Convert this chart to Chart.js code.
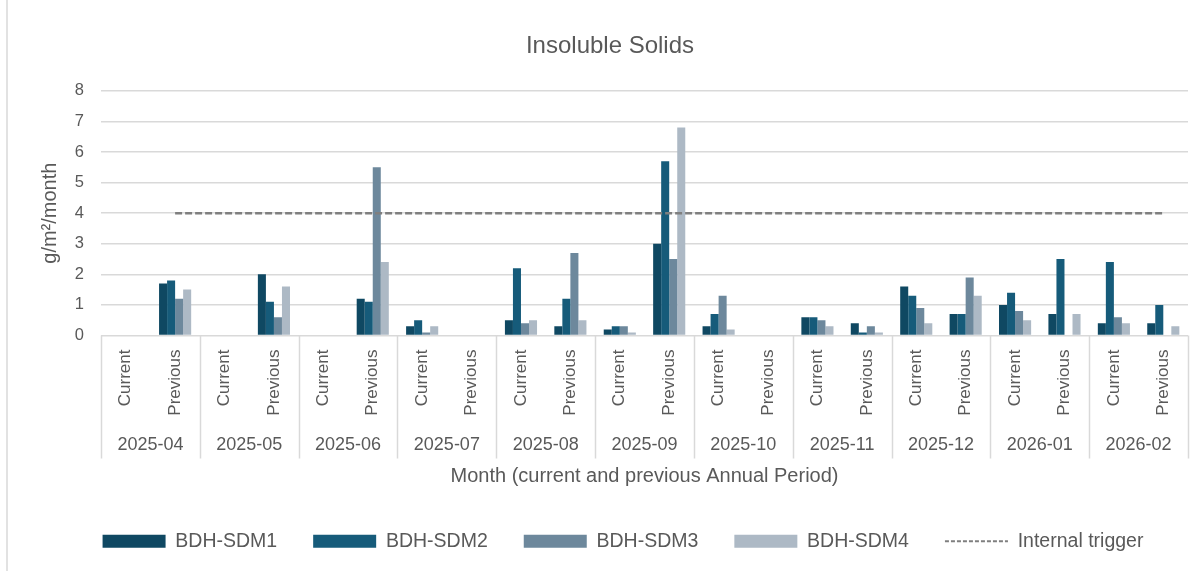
<!DOCTYPE html>
<html>
<head>
<meta charset="utf-8">
<script src="https://cdn.jsdelivr.net/npm/chart.js@4.4.1/dist/chart.umd.min.js"></script>
<style>
  html, body { margin: 0; padding: 0; background: #fff; }
  #wrap { width: 1204px; height: 571px; position: relative; }
</style>
</head>
<body>
<div id="wrap"><canvas id="chart" width="1204" height="571"></canvas></div>
<script>
// values
const months = ['2025-04', '2025-05', '2025-06', '2025-07', '2025-08', '2025-09',
    '2025-10', '2025-11', '2025-12', '2026-01', '2026-02'];
const periods = ['Current', 'Previous'];
const labels = months.flatMap(() => periods);

const sdm1 = [null, 1.7, null, 2.0, null, 1.2, 0.3, null, 0.5, 0.3, 0.2, 3.0,
    0.3, null, 0.6, 0.4, 1.6, 0.7, 1.0, 0.7, 0.4, 0.4];
const sdm2 = [null, 1.8, null, 1.1, null, 1.1, 0.5, null, 2.2, 1.2, 0.3, 5.7,
    0.7, null, 0.6, 0.1, 1.3, 0.7, 1.4, 2.5, 2.4, 1.0];
const sdm3 = [null, 1.2, null, 0.6, null, 5.5, 0.1, null, 0.4, 2.7, 0.3, 2.5,
    1.3, null, 0.5, 0.3, 0.9, 1.9, 0.8, null, 0.6, null];
const sdm4 = [null, 1.5, null, 1.6, null, 2.4, 0.3, null, 0.5, 0.5, 0.1, 6.8,
    0.2, null, 0.3, 0.1, 0.4, 1.3, 0.5, 0.7, 0.4, 0.3];
const trigger = [null, 4, 4, 4, 4, 4, 4, 4, 4, 4, 4, 4,
    4, 4, 4, 4, 4, 4, 4, 4, 4, 4];

const yTicks = [0, 1, 2, 3, 4, 5, 6, 7, 8];

const colors = {
    sdm1: '#0f4862',
    sdm2: '#165b7a',
    sdm3: '#6d889c',
    sdm4: '#adb9c5',
    trigger: '#7f7f7f',
    text: '#595959',
    grid: '#d9d9d9'
};
const FONT = "'Liberation Sans', Arial, sans-serif";

function barSet(label, data, color) {
    return {
        type: 'bar',
        label: label,
        data: data,
        backgroundColor: color,
        borderWidth: 0,
        categoryPercentage: 0.65,
        barPercentage: 1.0,
        order: 1
    };
}

// frame line on the left, group separators below the axis, title/legend nudge
const decorations = {
    id: 'decorations',
    afterLayout(chart) {
        chart.legend.left += 25;
        chart.legend.right += 25;
        chart.titleBlock.left += 12;
        chart.titleBlock.right += 12;
    },
    afterDraw(chart) {
        const ctx = chart.ctx;
        const xs = chart.scales.x;
        const x2 = chart.scales.x2;
        ctx.save();
        ctx.strokeStyle = colors.grid;
        ctx.lineWidth = 1.5;
        ctx.beginPath();
        ctx.moveTo(7, 0);
        ctx.lineTo(7, chart.height);
        const step = xs.width / months.length;
        for (let k = 0; k <= months.length; k++) {
            const x = Math.round(xs.left + k * step) + 0.5;
            ctx.moveTo(x, xs.top);
            ctx.lineTo(x, x2.top + 38);
        }
        ctx.stroke();
        ctx.restore();
    }
};

const config = {
    data: {
        labels: labels,
        datasets: [
            barSet('BDH-SDM1', sdm1, colors.sdm1),
            barSet('BDH-SDM2', sdm2, colors.sdm2),
            barSet('BDH-SDM3', sdm3, colors.sdm3),
            barSet('BDH-SDM4', sdm4, colors.sdm4),
            {
                type: 'line',
                label: 'Internal trigger',
                data: trigger,
                borderColor: colors.trigger,
                backgroundColor: colors.trigger,
                borderWidth: 2.5,
                borderDash: [7, 3],
                pointRadius: 0,
                spanGaps: false,
                order: 0
            }
        ]
    },
    options: {
        responsive: false,
        animation: false,
        layout: { padding: { left: 8, right: 16, top: 4, bottom: 10 } },
        plugins: {
            title: {
                display: true,
                text: 'Insoluble Solids',
                color: colors.text,
                font: { family: FONT, size: 24, weight: 'normal' },
                padding: { top: 28, bottom: 30 }
            },
            legend: {
                position: 'bottom',
                labels: {
                    color: colors.text,
                    font: { family: FONT, size: 19.5 },
                    usePointStyle: true,
                    pointStyleWidth: 63,
                    boxHeight: 13,
                    padding: 36,
                    sort: (a, b) => a.datasetIndex - b.datasetIndex,
                    generateLabels(chart) {
                        const items = Chart.defaults.plugins.legend.labels.generateLabels(chart);
                        items.forEach(item => {
                            if (item.datasetIndex === 4) {
                                item.pointStyle = 'line';
                                item.lineDash = [4, 2];
                                item.lineWidth = 2;
                                item.strokeStyle = colors.trigger;
                            } else {
                                item.pointStyle = 'rect';
                                item.lineWidth = 0;
                            }
                        });
                        return items;
                    }
                }
            },
            tooltip: { enabled: false }
        },
        scales: {
            x: {
                type: 'category',
                position: 'bottom',
                weight: 0,
                offset: true,
                grid: { display: false, drawTicks: false },
                border: { display: false },
                ticks: {
                    color: colors.text,
                    font: { family: FONT, size: 17 },
                    autoSkip: false,
                    minRotation: 90,
                    maxRotation: 90,
                    padding: 14
                },
                afterFit(scale) { scale.height = 85; }
            },
            x2: {
                type: 'category',
                position: 'bottom',
                weight: 1,
                labels: months,
                offset: true,
                grid: { display: false, drawTicks: false },
                border: { display: false },
                ticks: {
                    color: colors.text,
                    font: { family: FONT, size: 18 },
                    autoSkip: false,
                    maxRotation: 0,
                    padding: 14
                },
                title: {
                    display: true,
                    text: 'Month (current and previous Annual Period)',
                    color: colors.text,
                    font: { family: FONT, size: 20 },
                    padding: { top: 0, bottom: 7 }
                },
                afterFit(scale) { scale.height = 75; }
            },
            y: {
                min: 0,
                max: 8,
                afterBuildTicks(scale) {
                    scale.ticks = yTicks.map(v => ({ value: v }));
                },
                grid: { color: colors.grid, lineWidth: 1.5, drawTicks: false },
                border: { display: false },
                ticks: {
                    color: colors.text,
                    font: { family: FONT, size: 16.5 },
                    padding: 17
                },
                title: {
                    display: true,
                    text: 'g/m²/month',
                    color: colors.text,
                    font: { family: FONT, size: 20 },
                    padding: { top: 30, bottom: 0 }
                },
                afterFit(scale) { scale.width = 93; }
            }
        }
    },
    plugins: [decorations]
};

new Chart(document.getElementById('chart').getContext('2d'), config);
</script>
</body>
</html>
